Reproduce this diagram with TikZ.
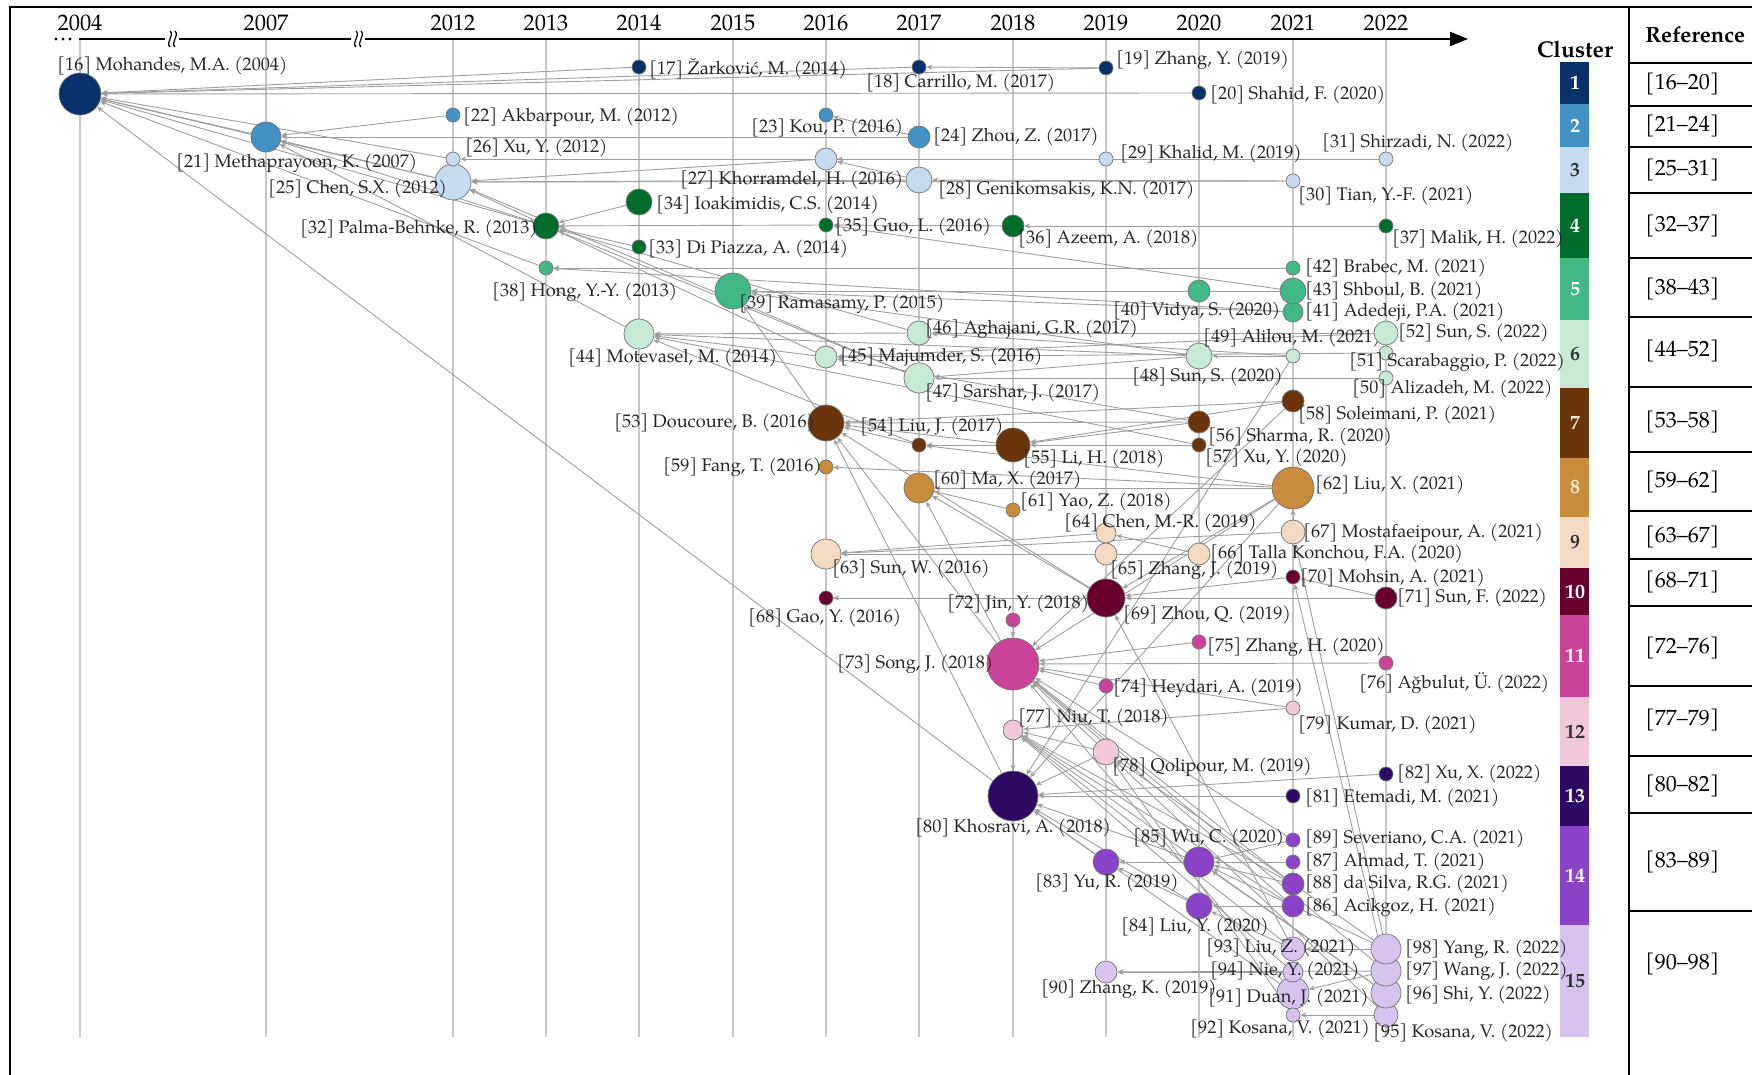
\documentclass[tikz,border=0pt]{standalone}
\usepackage{fontspec}
\setmainfont{texgyrepagella}[Extension=.otf,UprightFont=*-regular,BoldFont=*-bold,ItalicFont=*-italic,BoldItalicFont=*-bolditalic]
\usetikzlibrary{arrows.meta}
\pgfdeclarelayer{bg}
\pgfdeclarelayer{edges}
\pgfsetlayers{bg,edges,main}
\definecolor{c1}{RGB}{8,48,107}
\definecolor{c2}{RGB}{66,146,198}
\definecolor{c3}{RGB}{198,219,239}
\definecolor{c4}{RGB}{0,109,44}
\definecolor{c5}{RGB}{64,185,135}
\definecolor{c6}{RGB}{199,234,214}
\definecolor{c7}{RGB}{106,52,12}
\definecolor{c8}{RGB}{200,140,60}
\definecolor{c9}{RGB}{243,219,195}
\definecolor{c10}{RGB}{103,0,45}
\definecolor{c11}{RGB}{201,67,152}
\definecolor{c12}{RGB}{240,200,218}
\definecolor{c13}{RGB}{45,10,100}
\definecolor{c14}{RGB}{137,66,200}
\definecolor{c15}{RGB}{215,196,238}
\definecolor{cream}{RGB}{250,236,205}
\tikzset{
  pub/.style={circle,draw=black!55,line width=0.35pt,inner sep=0pt},
  lab/.style={anchor=west,inner sep=0pt,font=\fontsize{9.1}{10}\selectfont,text=black!85},
  yr/.style={inner sep=0pt,font=\fontsize{11.2}{13}\selectfont},
  tab/.style={anchor=west,inner sep=0pt,font=\fontsize{11}{13}\selectfont},
  cnum/.style={inner sep=0pt,font=\bfseries\fontsize{10}{12}\selectfont},
  edge/.style={draw=black!38,line width=0.45pt,-{Stealth[length=3pt,width=2.6pt]}},
  gridline/.style={draw=black!22,line width=0.7pt},
  framel/.style={draw=black,line width=0.6pt},
  axisl/.style={draw=black,line width=1pt}
}
\newcommand{\pubn}[8]{%
  \node[pub,fill=#2,minimum size=#3pt] (n#1) at (#4,#5) {};
  \node[lab] (l#1) at (#6,#7) {#8};}
\begin{document}
\begin{tikzpicture}[x=0.5pt,y=-0.5pt]
\useasboundingbox (0,0) rectangle (1752,1075);
% frame and table
\draw[framel] (10,1075) -- (10,7) -- (1752,7);
\draw[framel] (1629,7) -- (1629,1075);
\foreach \yy in {63,106,147,193,258,317,387,452,511,559,606,686,756,813,911}
  \draw[framel] (1629,\yy) -- (1752,\yy);
\node[tab,font=\bfseries\fontsize{11}{13}\selectfont] (thead) at (1645,35) {Reference};
\foreach \txt/\yy [count=\i] in {[16–20]/84,[21–24]/126,[25–31]/170,[32–37]/226,[38–43]/289,[44–52]/351,[53–58]/422,[59–62]/482,[63–67]/537,[68–71]/582,[72–76]/648,[77–79]/720,[80–82]/786,[83–89]/862,[90–98]/964}
  \node[tab] (t\i) at (1645,\yy) {\txt};
% cluster bar
\node[inner sep=0pt,font=\bfseries\fontsize{11.4}{13}\selectfont] (ctitle) at (1575,49) {Cluster};
\foreach \i/\ya/\yb/\tc in {1/62/104/white,2/104/147/white,3/147/193/black!80,4/193/258/white,5/258/320/white,6/320/388/black!80,7/388/458/cream,8/458/517/cream,9/517/568/black!80,10/568/615/white,11/615/697/white,12/697/766/black!80,13/766/826/white,14/826/925/white,15/925/1037/black!80}{
  \fill[c\i] (1560,\ya) rectangle (1589,\yb);
  \node[cnum,text=\tc] (cb\i) at (1575,{(\ya+\yb)/2}) {\i};
}
% axis
\begin{pgfonlayer}{bg}
\foreach \yr/\xx in {2004/80,2007/266,2012/453,2013/546,2014/639,2015/733,2016/826,2017/919,2018/1013,2019/1106,2020/1199,2021/1293,2022/1386}{
  \draw[gridline] (\xx,40) -- (\xx,1037);
}
\end{pgfonlayer}
\foreach \yr/\xx in {2004/80,2007/266,2012/453,2013/546,2014/639,2015/733,2016/826,2017/919,2018/1013,2019/1106,2020/1199,2021/1293,2022/1386}{
  \node[yr] (y\yr) at (\xx,23) {\yr};
}
\draw[axisl] (79,39) -- (165,39);
\draw[axisl] (179,39) -- (351,39);
\draw[axisl,-{Triangle[length=9pt,width=7pt]}] (365,39) -- (1468,39);
\foreach \bx in {172,358}{
  \draw[line width=0.6pt] (\bx-2,31) .. controls (\bx+3,36) and (\bx-7,42) .. (\bx-2,47);
  \draw[line width=0.6pt] (\bx+3,31) .. controls (\bx+8,36) and (\bx-2,42) .. (\bx+3,47);
}
\foreach \dx in {56,63,70} \fill (\dx,39) circle[radius=0.8pt];
% publications
\pubn{16}{c1}{21}{80}{94}{57}{66}{[16] Mohandes, M.A. (2004)}
\pubn{17}{c1}{7}{639}{67}{649}{69}{[17] Žarković, M. (2014)}
\pubn{18}{c1}{7}{919}{67}{866}{83}{[18] Carrillo, M. (2017)}
\pubn{19}{c1}{7}{1106}{68}{1116}{60}{[19] Zhang, Y. (2019)}
\pubn{20}{c1}{7}{1199}{93}{1210}{95}{[20] Shahid, F. (2020)}
\pubn{21}{c2}{15}{266}{137}{176}{163}{[21] Methaprayoon, K. (2007)}
\pubn{22}{c2}{7}{453}{115}{463}{117}{[22] Akbarpour, M. (2012)}
\pubn{23}{c2}{7}{826}{115}{751}{128}{[23] Kou, P. (2016)}
\pubn{24}{c2}{11}{919}{137}{933}{137}{[24] Zhou, Z. (2017)}
\pubn{25}{c3}{18}{453}{182}{268}{189}{[25] Chen, S.X. (2012)}
\pubn{26}{c3}{7}{453}{159}{465}{148}{[26] Xu, Y. (2012)}
\pubn{27}{c3}{11}{826}{159}{680}{180}{[27] Khorramdel, H. (2016)}
\pubn{28}{c3}{13}{919}{180}{938}{190}{[28] Genikomsakis, K.N. (2017)}
\pubn{29}{c3}{7}{1106}{159}{1120}{154}{[29] Khalid, M. (2019)}
\pubn{30}{c3}{7}{1293}{181}{1298}{196}{[30] Tian, Y.-F. (2021)}
\pubn{31}{c3}{7}{1386}{159}{1322}{143}{[31] Shirzadi, N. (2022)}
\pubn{32}{c4}{13}{546}{226}{300}{229}{[32] Palma-Behnke, R. (2013)}
\pubn{33}{c4}{7}{639}{247}{648}{249}{[33] Di Piazza, A. (2014)}
\pubn{34}{c4}{13}{639}{202}{656}{205}{[34] Ioakimidis, C.S. (2014)}
\pubn{35}{c4}{7}{826}{225}{835}{227}{[35] Guo, L. (2016)}
\pubn{36}{c4}{11}{1013}{226}{1018}{239}{[36] Azeem, A. (2018)}
\pubn{37}{c4}{7}{1386}{226}{1392}{239}{[37] Malik, H. (2022)}
\pubn{38}{c5}{7}{546}{268}{492}{292}{[38] Hong, Y.-Y. (2013)}
\pubn{39}{c5}{18}{733}{291}{739}{304}{[39] Ramasamy, P. (2015)}
\pubn{40}{c5}{11}{1199}{291}{1113}{311}{[40] Vidya, S. (2020)}
\pubn{41}{c5}{10}{1293}{312}{1305}{312}{[41] Adedeji, P.A. (2021)}
\pubn{42}{c5}{7}{1293}{268}{1305}{268}{[42] Brabec, M. (2021)}
\pubn{43}{c5}{13}{1293}{291}{1305}{291}{[43] Shboul, B. (2021)}
\pubn{44}{c6}{15}{639}{334}{568}{358}{[44] Motevasel, M. (2014)}
\pubn{45}{c6}{11}{826}{357}{840}{357}{[45] Majumder, S. (2016)}
\pubn{46}{c6}{12}{919}{333}{925}{329}{[46] Aghajani, G.R. (2017)}
\pubn{47}{c6}{15}{919}{378}{925}{393}{[47] Sarshar, J. (2017)}
\pubn{48}{c6}{13}{1199}{356}{1132}{377}{[48] Sun, S. (2020)}
\pubn{49}{c6}{7}{1293}{356}{1203}{338}{[49] Alilou, M. (2021)}
\pubn{50}{c6}{7}{1386}{378}{1352}{389}{[50] Alizadeh, M. (2022)}
\pubn{51}{c6}{7}{1386}{353}{1349}{362}{[51] Scarabaggio, P. (2022)}
\pubn{52}{c6}{12}{1386}{333}{1398}{333}{[52] Sun, S. (2022)}
\pubn{53}{c7}{18}{826}{423}{614}{423}{[53] Doucoure, B. (2016)}
\pubn{54}{c7}{7}{919}{445}{860}{427}{[54] Liu, J. (2017)}
\pubn{55}{c7}{17}{1013}{445}{1023}{459}{[55] Li, H. (2018)}
\pubn{56}{c7}{11}{1199}{422}{1208}{437}{[56] Sharma, R. (2020)}
\pubn{57}{c7}{7}{1199}{445}{1205}{458}{[57] Xu, Y. (2020)}
\pubn{58}{c7}{11}{1293}{401}{1298}{415}{[58] Soleimani, P. (2021)}
\pubn{59}{c8}{7}{826}{467}{663}{467}{[59] Fang, T. (2016)}
\pubn{60}{c8}{15}{919}{488}{933}{480}{[60] Ma, X. (2017)}
\pubn{61}{c8}{7}{1013}{510}{1020}{502}{[61] Yao, Z. (2018)}
\pubn{62}{c8}{21}{1293}{488}{1315}{485}{[62] Liu, X. (2021)}
\pubn{63}{c9}{15}{826}{554}{832}{569}{[63] Sun, W. (2016)}
\pubn{64}{c9}{10}{1106}{533}{1064}{523}{[64] Chen, M.-R. (2019)}
\pubn{65}{c9}{11}{1106}{554}{1110}{570}{[65] Zhang, J. (2019)}
\pubn{66}{c9}{11}{1199}{554}{1210}{554}{[66] Talla Konchou, F.A. (2020)}
\pubn{67}{c9}{12}{1293}{532}{1303}{533}{[67] Mostafaeipour, A. (2021)}
\pubn{68}{c10}{7}{826}{598}{748}{618}{[68] Gao, Y. (2016)}
\pubn{69}{c10}{19}{1106}{598}{1123}{615}{[69] Zhou, Q. (2019)}
\pubn{70}{c10}{7}{1293}{577}{1300}{578}{[70] Mohsin, A. (2021)}
\pubn{71}{c10}{11}{1386}{598}{1397}{598}{[71] Sun, F. (2022)}
\pubn{72}{c11}{7}{1013}{620}{947}{604}{[72] Jin, Y. (2018)}
\pubn{73}{c11}{26}{1013}{664}{837}{664}{[73] Song, J. (2018)}
\pubn{74}{c11}{7}{1106}{686}{1113}{688}{[74] Heydari, A. (2019)}
\pubn{75}{c11}{7}{1199}{642}{1207}{647}{[75] Zhang, H. (2020)}
\pubn{76}{c11}{7}{1386}{663}{1359}{683}{[76] Ağbulut, Ü. (2022)}
\pubn{77}{c12}{10}{1013}{730}{1018}{718}{[77] Niu, T. (2018)}
\pubn{78}{c12}{13}{1106}{752}{1112}{767}{[78] Qolipour, M. (2019)}
\pubn{79}{c12}{7}{1293}{708}{1298}{725}{[79] Kumar, D. (2021)}
\pubn{80}{c13}{25}{1013}{796}{915}{828}{[80] Khosravi, A. (2018)}
\pubn{81}{c13}{7}{1293}{796}{1305}{798}{[81] Etemadi, M. (2021)}
\pubn{82}{c13}{7}{1386}{774}{1397}{774}{[82] Xu, X. (2022)}
\pubn{83}{c14}{13}{1106}{862}{1035}{883}{[83] Yu, R. (2019)}
\pubn{84}{c14}{13}{1199}{906}{1121}{927}{[84] Liu, Y. (2020)}
\pubn{85}{c14}{15}{1199}{862}{1133}{838}{[85] Wu, C. (2020)}
\pubn{86}{c14}{11}{1293}{906}{1305}{907}{[86] Acikgoz, H. (2021)}
\pubn{87}{c14}{7}{1293}{862}{1305}{862}{[87] Ahmad, T. (2021)}
\pubn{88}{c14}{11}{1293}{884}{1305}{884}{[88] da Silva, R.G. (2021)}
\pubn{89}{c14}{7}{1293}{840}{1305}{839}{[89] Severiano, C.A. (2021)}
\pubn{90}{c15}{11}{1106}{972}{1041}{989}{[90] Zhang, K. (2019)}
\pubn{91}{c15}{16}{1293}{993}{1208}{998}{[91] Duan, J. (2021)}
\pubn{92}{c15}{7}{1293}{1015}{1190}{1029}{[92] Kosana, V. (2021)}
\pubn{93}{c15}{12}{1293}{949}{1206}{948}{[93] Liu, Z. (2021)}
\pubn{94}{c15}{10}{1293}{972}{1210}{971}{[94] Nie, Y. (2021)}
\pubn{95}{c15}{12}{1386}{1015}{1373}{1033}{[95] Kosana, V. (2022)}
\pubn{96}{c15}{15}{1386}{993}{1405}{995}{[96] Shi, Y. (2022)}
\pubn{97}{c15}{15}{1386}{971}{1405}{971}{[97] Wang, J. (2022)}
\pubn{98}{c15}{15}{1386}{949}{1405}{949}{[98] Yang, R. (2022)}
% citations
\begin{pgfonlayer}{edges}
\foreach \a/\b in {17/16,18/16,19/16,20/16,19/18,21/16,26/16,25/16,32/16,38/16,80/16,
  22/21,24/21,24/23,25/21,32/21,44/21,
  27/25,28/25,28/27,29/27,30/28,30/25,31/26,47/25,45/25,
  34/32,33/32,35/32,36/35,37/36,43/35,46/32,47/32,
  42/38,40/39,43/39,41/39,53/39,41/38,48/39,
  45/44,46/44,48/44,52/46,49/48,48/47,50/47,51/45,52/45,49/46,
  54/53,55/53,56/53,58/53,56/55,57/55,58/55,55/54,57/44,56/45,54/44,
  62/59,62/60,61/60,69/60,73/60,62/54,
  64/63,65/63,66/63,67/63,66/64,67/62,
  69/68,71/69,70/69,71/70,62/69,69/53,73/53,80/53,
  72/73,75/73,74/73,76/73,79/73,78/73,58/73,62/73,
  78/77,79/77,77/80,78/80,
  81/80,82/80,83/80,84/80,85/80,62/80,49/80,
  85/83,84/83,87/85,89/85,88/85,86/84,93/84,
  94/90,97/90,95/92,98/93,97/91,98/67,97/70,93/69,
  86/73,88/73,89/73,91/73,93/77,94/77,96/77,97/73,98/78,95/78,92/78,91/80,96/85,98/85,88/77,86/77}
  \draw[edge] (n\a) -- (n\b);
\end{pgfonlayer}
\end{tikzpicture}
\end{document}
